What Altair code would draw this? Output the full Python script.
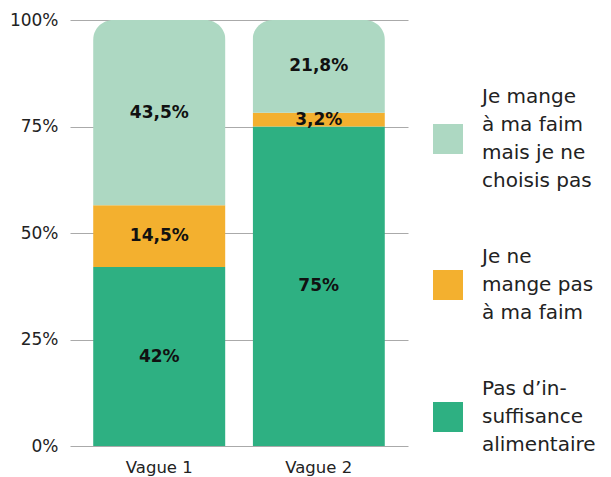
import altair as alt
import pandas as pd

vagues = ["Vague 1", "Vague 2"]
categories = [
    "Pas d’in-|suffisance|alimentaire",
    "Je ne|mange pas|à ma faim",
    "Je mange|à ma faim|mais je ne|choisis pas",
]
values = {
    "Vague 1": [42, 14.5, 43.5],
    "Vague 2": [75, 3.2, 21.8],
}
colors = ["#2EB082", "#F3B02F", "#ADD8C2"]

rows = []
for v in vagues:
    for i, c in enumerate(categories):
        val = values[v][i]
        rows.append({
            "vague": v,
            "cat": c,
            "value": val,
            "order": i,
            "label": (f"{val:g}".replace(".", ",")) + "%",
        })
df = pd.DataFrame(rows)

FONT = "DejaVu Sans"
legend_domain = categories[::-1]
legend_range = colors[::-1]

# square legend symbols, shifted down to the middle of each multi-line label
def square(lines, lh=28, half=15):
    c = (lines - 1) * lh / 2 / half
    return f"M-1,{c - 1:.3f}H1V{c + 1:.3f}H-1Z"

legend_shapes = [square(len(c.split("|"))) for c in legend_domain]

x = alt.X("vague:N", axis=alt.Axis(title=None, labelAngle=0, ticks=False, domain=False,
                                   labelFontSize=16.5, labelColor="#222", labelPadding=13,
                                   labelFont=FONT),
          scale=alt.Scale(paddingInner=0.17, paddingOuter=0.145))

color_scale = alt.Scale(domain=legend_domain, range=legend_range)
legend = alt.Legend(title=None, orient="none", legendX=363, legendY=62,
                    symbolSize=900, symbolStrokeWidth=0, symbolOpacity=1,
                    labelExpr="split(datum.label, '|')",
                    labelFontSize=20, labelLimit=300,
                    labelOffset=19, rowPadding=51, padding=0,
                    labelColor="#222", labelFont=FONT)

bars = alt.Chart(df).mark_bar(cornerRadiusTopLeft=20, cornerRadiusTopRight=20).encode(
    x=x,
    y=alt.Y("value:Q", stack="zero",
            scale=alt.Scale(domain=[0, 100]),
            axis=alt.Axis(title=None, values=[0, 25, 50, 75, 100],
                          labelExpr="datum.value + '%'", ticks=False, domain=False,
                          grid=True, gridColor="#aaaaaa", gridWidth=1,
                          labelFontSize=17, labelColor="#222", labelPadding=12,
                          labelFont=FONT)),
    color=alt.Color("cat:N", scale=color_scale, legend=legend),
    order=alt.Order("order:Q"),
)

legend_layer = alt.Chart(df).mark_point(filled=True, opacity=0).encode(
    x=alt.X("vague:N"),
    y=alt.value(0),
    color=alt.Color("cat:N", scale=color_scale, legend=legend),
    shape=alt.Shape("cat:N", scale=alt.Scale(domain=legend_domain, range=legend_shapes),
                    legend=legend),
)

texts = alt.Chart(df).transform_stack(
    stack="value", groupby=["vague"], as_=["y0", "y1"], sort=[alt.SortField("order")]
).transform_calculate(
    mid="(datum.y0 + datum.y1) / 2"
).mark_text(fontWeight="bold", fontSize=17, color="#111", font=FONT).encode(
    x=alt.X("vague:N"),
    y=alt.Y("mid:Q"),
    text="label:N",
)

chart = alt.layer(bars, texts, legend_layer).properties(
    width=338, height=426,
    autosize=alt.AutoSizeParams(type="none"),
    padding={"left": 62, "top": 12, "right": 195, "bottom": 40},
).configure(
    style={"guide-label": {"lineHeight": 28}}
).configure_view(stroke=None)

chart.save("out.html", embed_options={"renderer": "svg", "actions": False})
